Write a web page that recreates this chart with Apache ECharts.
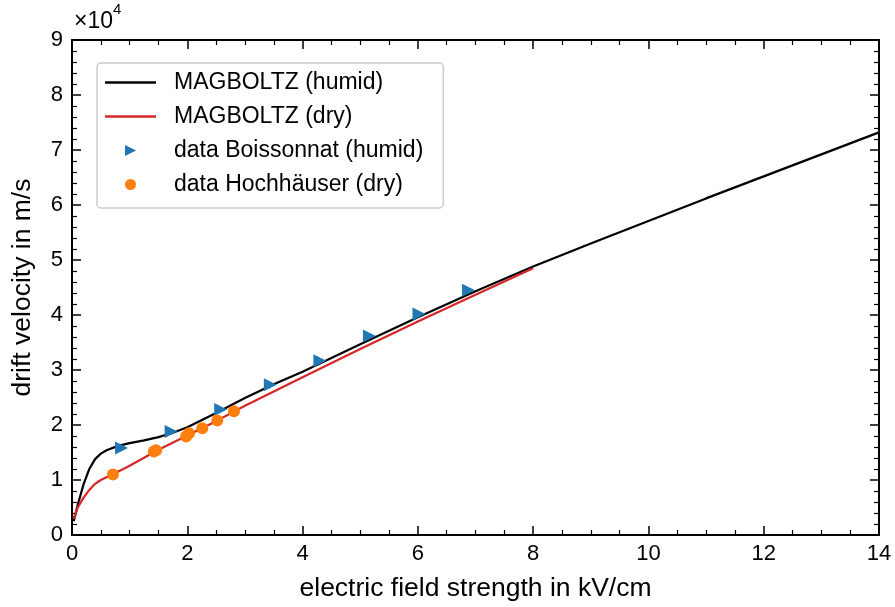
<!DOCTYPE html>
<html>
<head>
<meta charset="utf-8">
<script src="https://cdn.jsdelivr.net/npm/echarts@6/dist/echarts.min.js"></script>
<style>html,body{margin:0;padding:0;background:#fff}#c{width:895px;height:607px}</style>
</head>
<body>
<div id="c"></div>
<script>
// MAGBOLTZ (humid) curve: field [kV/cm], drift velocity [m/s]
const humidX = [0.03,0.1,0.2,0.3,0.4,0.5,0.6,0.8,1.0,1.25,1.5,1.75,2.0,2.5,3,3.5,4,5,6,7,8,9,10,11,12,13,14];
const humidY = [2500,5500,9200,12000,13800,14800,15400,16200,16700,17200,17800,18600,19600,22200,24900,27400,29700,34700,39600,44300,48800,53000,57100,61200,65200,69200,73200];
// MAGBOLTZ (dry) curve
const dryX = [0.03,0.1,0.2,0.3,0.4,0.5,0.7,1.0,1.5,2.0,2.5,3,3.5,4,5,6,7,8];
const dryY = [3000,5000,6800,8200,9300,10000,11000,12600,15500,18100,20700,23500,26100,28700,33800,38800,43700,48500];
// data Boissonnat (humid)
const boisX = [0.86,1.72,2.58,3.44,4.30,5.16,6.02,6.88];
const boisY = [15800,18800,22800,27300,31700,36200,40200,44500];
// data Hochhäuser (dry)
const hochX = [0.71,1.42,1.46,1.98,2.03,2.26,2.52,2.81];
const hochY = [11000,15200,15400,17900,18500,19400,20800,22500];

const zip = (a,b) => a.map((v,i)=>[v,b[i]]);
const FONT = 'Liberation Sans, Arial, sans-serif';
const TRI = 'path://M0,0L10,5L0,10Z';
const LINE = 'path://M0,0L51,0L51,2.3L0,2.3Z';
const chart = echarts.init(document.getElementById('c'));
const axisLine = {show:true,onZero:false,lineStyle:{color:'#000',width:2}};
const axisTick = {show:true,inside:true,length:9,lineStyle:{color:'#000',width:1.5}};
const minor = n => ({show:true,splitNumber:n,length:5,lineStyle:{color:'#000',width:1.2}});
chart.setOption({
  animation:false,
  grid:{left:72,right:16,top:40,bottom:70,containLabel:false},
  graphic:[{type:'text',left:74,top:2,style:{
    text:'{a|×10}{b|4}',
    rich:{a:{fontSize:23,fontFamily:FONT,fill:'#000',padding:[8,0,0,0]},b:{fontSize:15,fontFamily:FONT,fill:'#000',verticalAlign:'top'}}
  }}],
  legend:{
    orient:'vertical',left:97,top:63,
    padding:[8,20,12,8],itemGap:11,itemWidth:51,itemHeight:11,
    borderColor:'#cccccc',borderWidth:1.5,borderRadius:4,backgroundColor:'rgba(255,255,255,0.8)',
    textStyle:{fontSize:23,fontFamily:FONT,color:'#000',padding:[0,0,0,13],lineHeight:23},
    data:[
      {name:'MAGBOLTZ (humid)',icon:LINE,itemStyle:{color:'#000',borderWidth:0}},
      {name:'MAGBOLTZ (dry)',icon:LINE,itemStyle:{color:'#d62728',borderWidth:0}},
      {name:'data Boissonnat (humid)',icon:TRI},
      {name:'data Hochhäuser (dry)',icon:'circle'}
    ]
  },
  xAxis:[
    {type:'value',min:0,max:14,interval:2,minorTick:minor(4),axisLine,axisTick,splitLine:{show:false},
      name:'electric field strength in kV/cm',nameLocation:'middle',nameGap:40,
      nameTextStyle:{fontSize:26.5,fontFamily:FONT,color:'#000'},
      axisLabel:{fontSize:22,fontFamily:FONT,color:'#000',margin:8}},
    {type:'value',position:'top',min:0,max:14,interval:2,minorTick:minor(4),axisLine,axisTick,splitLine:{show:false},axisLabel:{show:false}}
  ],
  yAxis:[
    {type:'value',min:0,max:90000,interval:10000,minorTick:minor(5),axisLine,axisTick,splitLine:{show:false},
      name:'drift velocity in m/s',nameLocation:'middle',nameGap:36,nameRotate:90,
      nameTextStyle:{fontSize:26.5,fontFamily:FONT,color:'#000'},
      axisLabel:{fontSize:22,fontFamily:FONT,color:'#000',margin:9,formatter:v=>String(v/10000)}},
    {type:'value',position:'right',min:0,max:90000,interval:10000,minorTick:minor(5),axisLine,axisTick,splitLine:{show:false},axisLabel:{show:false}}
  ],
  series:[
    {name:'MAGBOLTZ (humid)',type:'line',data:zip(humidX,humidY),symbol:'none',showSymbol:false,smooth:false,
      lineStyle:{color:'#000',width:2.2},itemStyle:{color:'#000'},z:3},
    {name:'MAGBOLTZ (dry)',type:'line',data:zip(dryX,dryY),symbol:'none',showSymbol:false,smooth:false,
      lineStyle:{color:'#d62728',width:2.2},itemStyle:{color:'#d62728'},z:4},
    {name:'data Boissonnat (humid)',type:'scatter',data:zip(boisX,boisY),symbol:TRI,symbolSize:[13,13],
      itemStyle:{color:'#1f77b4',opacity:1},z:5},
    {name:'data Hochhäuser (dry)',type:'scatter',data:zip(hochX,hochY),symbol:'circle',symbolSize:12,
      itemStyle:{color:'#ff7f0e',opacity:1},z:6}
  ]
});
</script>
</body>
</html>
